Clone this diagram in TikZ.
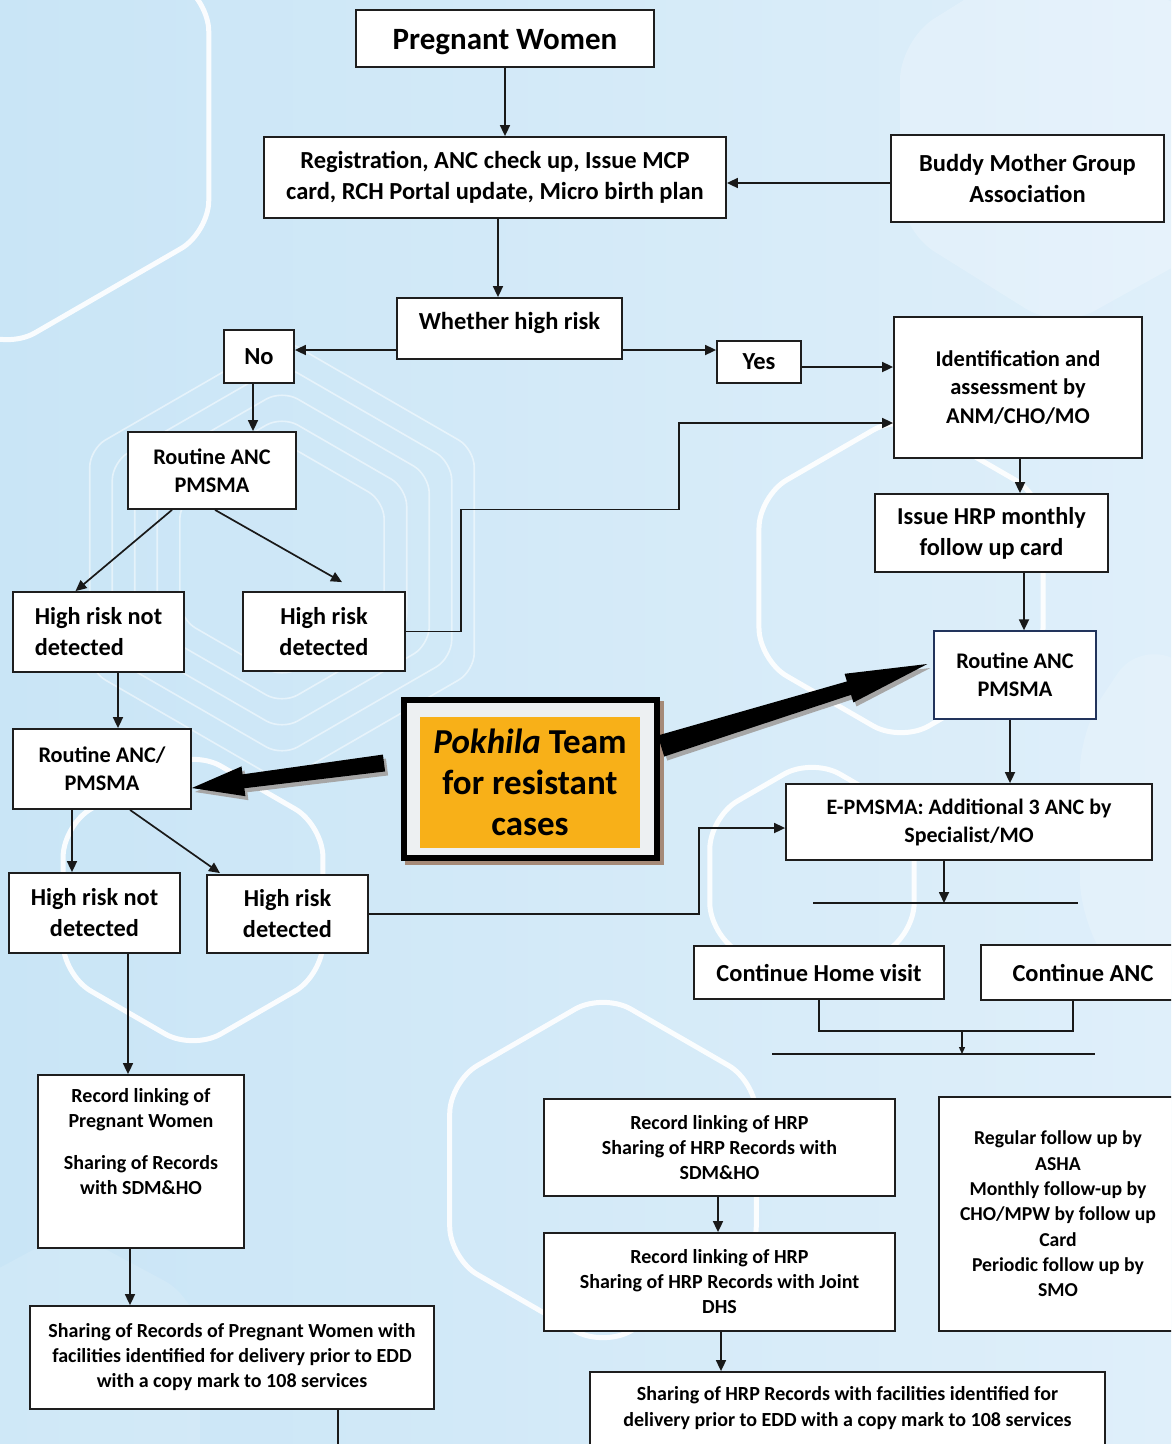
\documentclass[tikz,border=0pt]{standalone}
\usepackage{fontspec}
\setmainfont{Carlito}
\usetikzlibrary{arrows.meta,calc}

\definecolor{bgL}{HTML}{C9E5F6}
\definecolor{bgR}{HTML}{DFEFFA}
\definecolor{boxline}{HTML}{1E1E1E}
\definecolor{navyline}{HTML}{22345C}
\definecolor{pkorange}{HTML}{F8B018}
\definecolor{pkpanel}{HTML}{EDF0F2}
\definecolor{pkshadow}{HTML}{A58A78}

\newcommand\fs[2]{\bfseries\fontsize{#1}{#2}\selectfont}
% pointy-top hexagon: centre x, centre y, radius
\newcommand\hexshape[4][]{\draw[#1] ({#2},{#3-#4}) -- ({#2+0.866*#4},{#3-0.5*#4}) -- ({#2+0.866*#4},{#3+0.5*#4}) -- ({#2},{#3+#4}) -- ({#2-0.866*#4},{#3+0.5*#4}) -- ({#2-0.866*#4},{#3-0.5*#4}) -- cycle;}
% wide block arrow: start, tip, half tail width, half neck width, half head width, head length
\newcommand\blockarrow[7][black]{%
  \fill[#1] ($(#2)!#4!90:(#3)$) -- ($($(#3)!#7!(#2)$)!#5!90:(#3)$) -- ($($(#3)!#7!(#2)$)!#6!90:(#3)$) -- (#3)
    -- ($($(#3)!#7!(#2)$)!#6!-90:(#3)$) -- ($($(#3)!#7!(#2)$)!#5!-90:(#3)$) -- ($(#2)!#4!-90:(#3)$) -- cycle;}

\begin{document}
\begin{tikzpicture}[x=1pt,y=-1pt,
  box/.style={draw=boxline, line width=1.8pt, fill=white, align=center, inner sep=2pt},
  conn/.style={line width=1.7pt, draw=black!90},
  arr/.style={conn, -{Triangle[length=11pt,width=10pt]}},
  hexline/.style={draw=white, line width=5pt, rounded corners=32pt, opacity=0.9},
  hexthin/.style={draw=white, line width=1.6pt, rounded corners=18pt, opacity=0.5}]

\useasboundingbox (0,0) rectangle (1171,1444);
\clip (0,0) rectangle (1171,1444);
\shade[left color=bgL, right color=bgR] (0,0) rectangle (1171,1444);

% background decoration
\fill[white, opacity=0.22, rounded corners=40pt] (1060,-60) -- (1240,40) -- (1240,230) -- (1060,330) -- (900,230) -- (900,40) -- cycle;
\fill[white, opacity=0.18, rounded corners=40pt] (1140,640) -- (1300,730) -- (1300,920) -- (1140,1010) -- (1080,920) -- (1080,730) -- cycle;
\fill[white, opacity=0.12, rounded corners=40pt] (70,1230) -- (200,1300) -- (200,1500) -- (70,1570) -- (-60,1500) -- (-60,1300) -- cycle;
\hexshape[hexline]{7}{116}{233}
\hexshape[hexline]{901}{578}{164}
\hexshape[hexline]{812}{876}{118}
\hexshape[hexline]{603}{1170}{177}
\hexshape[hexline]{193}{900}{150}
\foreach \r in {222,196,170,144,118} {\hexshape[hexthin]{282}{560}{\r}}

% boxes
\node[box, minimum width=298, minimum height=57, text height=27pt, font=\fs{31}{36}] (pw) at (505,38.5) {Pregnant Women};
\node[box, minimum width=462, minimum height=81, font=\fs{24.5}{31}] (reg) at (495,177.5)
  {Registration, ANC check up, Issue MCP\\card, RCH Portal update, Micro birth plan};
\node[box, minimum width=273, minimum height=87, font=\fs{24.5}{31}] (buddy) at (1027.5,178.5)
  {Buddy Mother Group\\Association};
\node[box, minimum width=225, minimum height=61, text depth=15pt, font=\fs{24.5}{31}] (whr) at (509.5,328.5) {Whether high risk};
\node[box, minimum width=70, minimum height=53, font=\fs{24.5}{31}] (no) at (259,356.5) {No};
\node[box, minimum width=84, minimum height=42, font=\fs{24.5}{31}] (yes) at (759,362) {Yes};
\node[box, minimum width=248, minimum height=141, font=\fs{22.5}{28.5}] (ident) at (1018,387.5)
  {Identification and\\assessment by\\ANM/CHO/MO};
\node[box, minimum width=168, minimum height=77, font=\fs{22.3}{28}] (ra1) at (212,470.5) {Routine ANC\\PMSMA};
\node[box, minimum width=171, minimum height=80, font=\fs{24.3}{31}, align=left] (hrnd1) at (98.5,632) {High risk not\\detected};
\node[box, minimum width=162, minimum height=79, font=\fs{24.3}{31}] (hrd1) at (324,631.5) {High risk\\detected};
\node[box, minimum width=233, minimum height=78, font=\fs{24.3}{31}] (hrp) at (991.5,533) {Issue HRP monthly\\follow up card};
\node[box, draw=navyline, line width=1.3pt, minimum width=162, minimum height=88, font=\fs{22.3}{28}] (rar) at (1015,675) {Routine ANC\\PMSMA};
\node[box, minimum width=178, minimum height=80, font=\fs{22.3}{28}] (ra2) at (102,769) {Routine ANC/\\PMSMA};

% Pokhila panel
\fill[pkshadow] (405,701) rectangle (664,865);
\node[draw=black, line width=6pt, fill=pkpanel, minimum width=253, minimum height=158, inner sep=0pt] (pkframe) at (530.5,779) {};
\node[fill=pkorange, minimum width=220, minimum height=131, inner sep=0pt, align=center, font=\fs{35}{41}] (pokhila) at (530,782.5)
  {\textit{Pokhila} Team\\for resistant\\cases};

\node[box, minimum width=366, minimum height=76, font=\fs{22}{28}] (epm) at (969,822) {E-PMSMA: Additional 3 ANC by\\Specialist/MO};
\node[box, minimum width=171, minimum height=80, font=\fs{24.3}{31}] (hrnd2) at (94.5,913) {High risk not\\detected};
\node[box, minimum width=161, minimum height=78, font=\fs{24.3}{31}] (hrd2) at (287.5,914) {High risk\\detected};
\node[box, minimum width=250, minimum height=53, font=\fs{24.4}{31}] (chv) at (819,972.5) {Continue Home visit};
\node[box, minimum width=204, minimum height=55, font=\fs{24.4}{31}] (canc) at (1083,972.5) {Continue ANC};
\node[box, minimum width=206, minimum height=173, font=\fs{20}{25}] (rlpw) at (141,1161.5)
  {Record linking of\\Pregnant Women\\[17pt]Sharing of Records\\with SDM\&HO\\[8pt]\strut};
\node[box, minimum width=404, minimum height=103, font=\fs{20}{25}] (shpw) at (232,1357.5)
  {Sharing of Records of Pregnant Women with\\facilities identified for delivery prior to EDD\\with a copy mark to 108 services};
\node[box, minimum width=351, minimum height=97, font=\fs{20}{25}] (rh1) at (719.5,1147.5)
  {Record linking of HRP\\Sharing of HRP Records with\\SDM\&HO};
\node[box, minimum width=351, minimum height=98, font=\fs{20}{25}] (rh2) at (719.5,1282)
  {Record linking of HRP\\Sharing of HRP Records with Joint\\DHS};
\node[box, minimum width=238, minimum height=234, font=\fs{19.7}{25.3}] (fu) at (1058,1214)
  {Regular follow up by\\ASHA\\Monthly follow-up by\\CHO/MPW by follow up\\Card\\Periodic follow up by\\SMO};
\node[box, minimum width=515, minimum height=100, font=\fs{20}{26}] (shhrp) at (847.5,1422)
  {Sharing of HRP Records with facilities identified for\\delivery prior to EDD with a copy mark to 108 services\\[-2pt]\strut};

% connectors
\draw[arr] (pw.south) -- (pw.south |- reg.north);
\draw[arr] ([xshift=3]reg.south) -- ([xshift=3]reg.south |- whr.north);
\draw[arr] ([yshift=-4.5]buddy.west) -- ([yshift=-4.5]buddy.west -| reg.east);
\draw[arr] ([yshift=-21.5]whr.west) -- ([yshift=-21.5]whr.west -| no.east);
\draw[arr] ([yshift=-21.5]whr.east) -- ([yshift=-21.5]whr.east -| yes.west);
\draw[arr] ([yshift=-5]yes.east) -- ([yshift=-5]yes.east -| ident.west);
\draw[arr] ([xshift=-6]no.south) -- ([xshift=-6]no.south |- ra1.north);
\draw[arr] ([xshift=-40]ra1.south) -- ([xshift=-23]hrnd1.north);
\draw[arr] ([xshift=3]ra1.south) -- ($(hrd1.north)+(18,-9)$);
\draw[arr] (hrd1.east) -- ++(55,0) -- ++(0,-122) -- ++(218,0) |- ([yshift=-35.5]ident.west);
\draw[arr] ([xshift=19.5]hrnd1.south) -- ([xshift=19.5]hrnd1.south |- ra2.north);
\draw[arr] ([xshift=-30]ra2.south) -- ([xshift=-30]ra2.south |- hrnd2.north);
\draw[arr] ([xshift=28]ra2.south) -- ($(hrd2.north)+(-67.5,-1)$);
\draw[arr] (hrd2.east) -- ++(330,0) |- ([yshift=-6]epm.west);
\draw[arr] ([xshift=33.5]hrnd2.south) -- ([xshift=33.5]hrnd2.south |- rlpw.north);
\draw[arr] ([xshift=-11]rlpw.south) -- ([xshift=-11]rlpw.south |- shpw.north);
\draw[conn] ([xshift=106]shpw.south) -- ++(0,40);
\draw[arr] ([xshift=2]ident.south) -- ([xshift=2]ident.south |- hrp.north);
\draw[arr] ([xshift=32.5]hrp.south) -- ([xshift=32.5]hrp.south |- rar.north);
\draw[arr] ([xshift=-5]rar.south) -- ([xshift=-5]rar.south |- epm.north);

\coordinate (barAl) at (813,903);
\coordinate (barAr) at (1078,903);
\draw[conn, line width=1.3pt] (barAl) -- (barAr);
\draw[arr] ([xshift=-25]epm.south) -- ([xshift=-25]epm.south |- barAl);

\coordinate (barBl) at (772,1054);
\coordinate (barBr) at (1095,1054);
\draw[conn, line width=1.3pt] (barBl) -- (barBr);
\draw[conn] (chv.south) -- ++(0,31) coordinate (joinL) -| ([xshift=-10]canc.south);
\draw[conn, line width=1.2pt, -{Triangle[length=7pt,width=6pt]}] (joinL -| 962,0) coordinate (joinM) -- (joinM |- barBl);

\draw[arr] ([xshift=-1.5]rh1.south) -- ([xshift=-1.5]rh1.south |- rh2.north);
\draw[arr] ([xshift=1.5]rh2.south) -- ([xshift=1.5]rh2.south |- shhrp.north);

% thick arrows from the Pokhila panel
\coordinate (tailL) at ($(pkframe.west)+(-17,-16)$);
\coordinate (tipL) at ($(ra2.east)+(0,19)$);
\coordinate (tailR) at ($(pkframe.east)+(1,-33)$);
\coordinate (tipR) at ($(rar.west)+(-6,-11)$);
\begin{scope}[transform canvas={shift={(3pt,-4pt)}}]
  \blockarrow[gray!70]{tailL}{tipL}{8.5pt}{7pt}{15pt}{52pt}
  \blockarrow[gray!70]{tailR}{tipR}{11pt}{7pt}{15pt}{82pt}
\end{scope}
\blockarrow{tailL}{tipL}{8.5pt}{7pt}{15pt}{52pt}
\blockarrow{tailR}{tipR}{11pt}{7pt}{15pt}{82pt}

\end{tikzpicture}
\end{document}
